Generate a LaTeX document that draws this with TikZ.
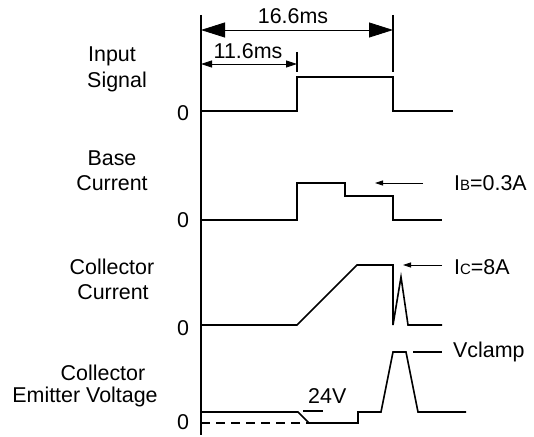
\documentclass[tikz,border=0pt]{standalone}
\usepackage{fontspec}
\setmainfont{Liberation Sans}
\usetikzlibrary{arrows.meta}
\begin{document}
\begin{tikzpicture}[x=1bp,y=-1bp,
  wave/.style={line width=1.6bp,line join=miter},
  marker/.style={line width=1.2bp},
  thinline/.style={line width=0.8bp},
  lbl/.style={font=\fontsize{21.5}{25}\selectfont, inner sep=0pt}]
\useasboundingbox (0,0) rectangle (534,437);
% axis
\draw[wave] (201,15) -- (201,435);
% markers
\draw[marker] (393,15) -- (393,72);
\draw[marker] (297,52) -- (297,72);
% dimension arrows
\coordinate (a0) at (201,30); \coordinate (a1) at (393,30);
\draw[thinline,{Triangle[length=24bp,width=15bp]}-{Triangle[length=24bp,width=15bp]}] (a0) -- (a1);
\coordinate (b0) at (201,64); \coordinate (b1) at (297,64);
\draw[thinline,{Triangle[length=11bp,width=7bp]}-{Triangle[length=11bp,width=7bp]}] (b0) -- (b1);
\node[lbl] (t166) at (293,16) {16.6ms};
\node[lbl] (t116) at (248,51) {11.6ms};
% left labels
\node[lbl] (l1a) at (112,56) {Input};
\node[lbl] (l1b) at (117,82) {Signal};
\node[lbl] (l2a) at (112,158) {Base};
\node[lbl] (l2b) at (112,183) {Current};
\node[lbl] (l3a) at (112,267) {Collector};
\node[lbl] (l3b) at (113,292) {Current};
\node[lbl] (l4a) at (103,373) {Collector};
\node[lbl] (l4b) at (85,397) {Emitter Voltage};
\node[lbl] (z1) at (183,113) {0};
\node[lbl] (z2) at (183,220) {0};
\node[lbl] (z3) at (183,328) {0};
\node[lbl] (z4) at (183,422) {0};
% waveforms
\draw[wave] (201,111) -- (297,111) -- (297,77) -- (393,77) -- (393,111) -- (453,111);
\draw[wave] (201,220) -- (297,220) -- (297,183) -- (345,183) -- (345,196) -- (393,196) -- (393,220) -- (442,220);
\draw[wave] (201,325) -- (297,325) -- (357,265) -- (393,265) -- (393,325) -- (401,277) -- (408,325) -- (442,325);
\draw[wave] (201,412) -- (298,412) -- (309,423) -- (358,423) -- (358,412) -- (381,412) -- (393,352) -- (406,352) -- (418,412) -- (466,412);
\draw[wave,dash pattern=on 9bp off 6bp] (201,423) -- (309,423);
% annotations
\coordinate (ib0) at (423,183); \coordinate (ib1) at (375,183);
\draw[thinline,-{Triangle[length=8bp,width=5bp]}] (ib0) -- (ib1);
\node[lbl,anchor=west] (ib) at (454,183) {I{\fontsize{15}{15}\selectfont B}=0.3A};
\coordinate (ic0) at (442,265); \coordinate (ic1) at (403,265);
\draw[thinline,-{Triangle[length=8bp,width=5bp]}] (ic0) -- (ic1);
\node[lbl,anchor=west] (ic) at (454,267) {I{\fontsize{15}{15}\selectfont C}=8A};
\coordinate (v0) at (303,411); \coordinate (v1) at (323,411);
\draw[marker] (v0) -- (v1);
\node[lbl,anchor=west] (v24) at (308,396) {24V};
\coordinate (vc0) at (413,352); \coordinate (vc1) at (442,352);
\draw[marker] (vc0) -- (vc1);
\node[lbl,anchor=west] (vcl) at (453,352) {Vclamp};
\end{tikzpicture}
\end{document}
